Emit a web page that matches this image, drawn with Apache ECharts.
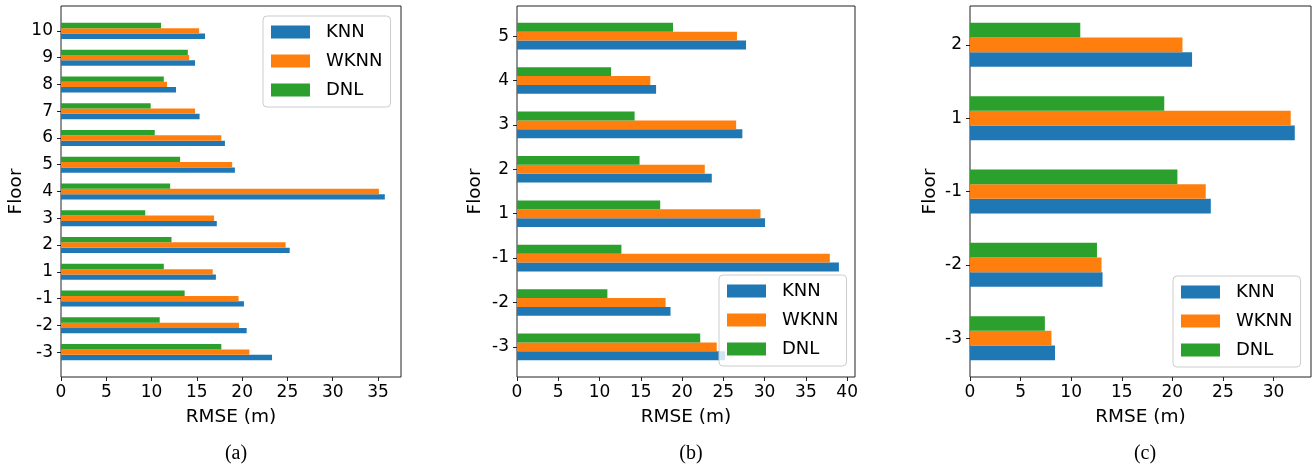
<!DOCTYPE html>
<html>
<head>
<meta charset="utf-8">
<script src="https://cdn.jsdelivr.net/npm/echarts@6/dist/echarts.min.js"></script>
<style>
html,body{margin:0;padding:0;background:#fff;}
#chart{width:1315px;height:464px;}
</style>
</head>
<body>
<div id="chart"></div>
<script>
// ---- Data ----
const seriesNames = ['KNN', 'WKNN', 'DNL'];

// Panel (a)
const floorsA = ['-3', '-2', '-1', '1', '2', '3', '4', '5', '6', '7', '8', '9', '10'];
const knnA  = [23.3, 20.5, 20.2, 17.1, 25.25, 17.2, 35.75, 19.2, 18.1, 15.3, 12.7, 14.8, 15.9];
const wknnA = [20.8, 19.65, 19.6, 16.75, 24.8, 16.9, 35.1, 18.9, 17.7, 14.8, 11.7, 14.15, 15.25];
const dnlA  = [17.7, 10.9, 13.65, 11.35, 12.2, 9.3, 12.05, 13.15, 10.35, 9.9, 11.35, 14.0, 11.05];

// Panel (b)
const floorsB = ['-3', '-2', '-1', '1', '2', '3', '4', '5'];
const knnB  = [25.2, 18.6, 39.0, 30.05, 23.6, 27.3, 16.85, 27.75];
const wknnB = [24.2, 18.0, 37.9, 29.5, 22.75, 26.55, 16.15, 26.65];
const dnlB  = [22.2, 10.95, 12.65, 17.35, 14.85, 14.25, 11.4, 18.9];

// Panel (c)
const floorsC = ['-3', '-2', '-1', '1', '2'];
const knnC  = [8.4, 13.1, 23.8, 32.1, 21.95];
const wknnC = [8.05, 13.0, 23.3, 31.7, 21.0];
const dnlC  = [7.4, 12.55, 20.5, 19.2, 10.9];

const xTicksA = [0, 5, 10, 15, 20, 25, 30, 35];
const xTicksB = [0, 5, 10, 15, 20, 25, 30, 35, 40];
const xTicksC = [0, 5, 10, 15, 20, 25, 30];

// ---- Styling ----
const colors = ['#1f77b4', '#ff7f0e', '#2ca02c'];
const FONT = 'DejaVu Sans';
const BAR = 0.2;

const panels = [
  {floors: floorsA, vals: [knnA, wknnA, dnlA], ticks: xTicksA,
   grid: {left: 61, top: 6, width: 340, height: 371},
   legend: {left: 263, top: 16}, caption: {x: 231, text: '(a)'}, nameGap: 35},
  {floors: floorsB, vals: [knnB, wknnB, dnlB], ticks: xTicksB,
   grid: {left: 517, top: 6, width: 338, height: 371},
   legend: {left: 719, top: 275}, caption: {x: 686, text: '(b)'}, nameGap: 32},
  {floors: floorsC, vals: [knnC, wknnC, dnlC], ticks: xTicksC,
   grid: {left: 970, top: 6, width: 341, height: 371},
   legend: {left: 1173, top: 276}, caption: {x: 1140, text: '(c)'}, nameGap: 30}
];

function makeRender(offset) {
  return function (params, api) {
    const val = api.value(0);
    const pos = api.value(1);
    const p0 = api.coord([0, pos + offset + BAR / 2]);
    const p1 = api.coord([val, pos + offset - BAR / 2]);
    return {
      type: 'rect',
      shape: {x: p0[0], y: p0[1], width: p1[0] - p0[0], height: p1[1] - p0[1]},
      style: api.style()
    };
  };
}

const option = {
  animation: false,
  backgroundColor: '#fff',
  textStyle: {fontFamily: FONT},
  grid: [], xAxis: [], yAxis: [], series: [], legend: [], title: []
};

panels.forEach((p, gi) => {
  const n = p.floors.length;
  const maxVal = Math.max(...p.vals.flat());
  const pad = (n - 1 + 0.6) * 0.05;
  option.grid.push(Object.assign({show: true, borderColor: '#222', borderWidth: 1, backgroundColor: 'transparent'}, p.grid));
  option.xAxis.push({
    type: 'value', gridIndex: gi, min: 0, max: +(maxVal * 1.05).toFixed(3),
    splitLine: {show: false},
    axisLine: {show: false, onZero: false},
    axisTick: {show: true, inside: false, length: 4, lineStyle: {color: '#222'}, customValues: p.ticks},
    axisLabel: {color: '#000', fontSize: 17, fontFamily: FONT, margin: 7, customValues: p.ticks},
    name: 'RMSE (m)', nameLocation: 'middle', nameGap: 31,
    nameTextStyle: {color: '#000', fontSize: 18.5, fontFamily: FONT}
  });
  const yt = p.floors.map((f, i) => i);
  option.yAxis.push({
    type: 'value', gridIndex: gi, min: -0.3 - pad, max: n - 1 + 0.3 + pad,
    splitLine: {show: false},
    axisLine: {show: false, onZero: false},
    axisTick: {show: true, inside: false, length: 4, lineStyle: {color: '#222'}, customValues: yt},
    axisLabel: {color: '#000', fontSize: 17, fontFamily: FONT, margin: 8, customValues: yt,
      formatter: v => p.floors[Math.round(v)]},
    name: 'Floor', nameLocation: 'middle', nameGap: p.nameGap, nameRotate: 90,
    nameTextStyle: {color: '#000', fontSize: 18.5, fontFamily: FONT}
  });
  const offsets = [-BAR, 0, BAR];
  seriesNames.forEach((name, si) => {
    option.series.push({
      type: 'custom', name: name, xAxisIndex: gi, yAxisIndex: gi,
      renderItem: makeRender(offsets[si]),
      itemStyle: {color: colors[si]},
      encode: {x: 0, y: 1},
      data: p.vals[si].map((v, i) => [v, i]),
      z: 2
    });
  });
  option.legend.push({
    data: seriesNames, orient: 'vertical', left: p.legend.left, top: p.legend.top,
    icon: 'rect', itemWidth: 39, itemHeight: 13, itemGap: 11,
    backgroundColor: 'rgba(255,255,255,0.8)', borderColor: '#cccccc', borderWidth: 1, borderRadius: 4,
    padding: [7, 8, 8, 8], selectedMode: false, z: 10,
    textStyle: {color: '#000', fontSize: 18, fontFamily: FONT, lineHeight: 18, padding: [0, 0, 0, 11]}
  });
  option.title.push({
    text: p.caption.text, left: p.caption.x, top: 439, textAlign: 'center',
    textStyle: {fontFamily: 'Liberation Serif', fontSize: 20, fontWeight: 'normal', color: '#000'}
  });
});

const chart = echarts.init(document.getElementById('chart'), null, {renderer: 'canvas'});
chart.setOption(option);
</script>
</body>
</html>
